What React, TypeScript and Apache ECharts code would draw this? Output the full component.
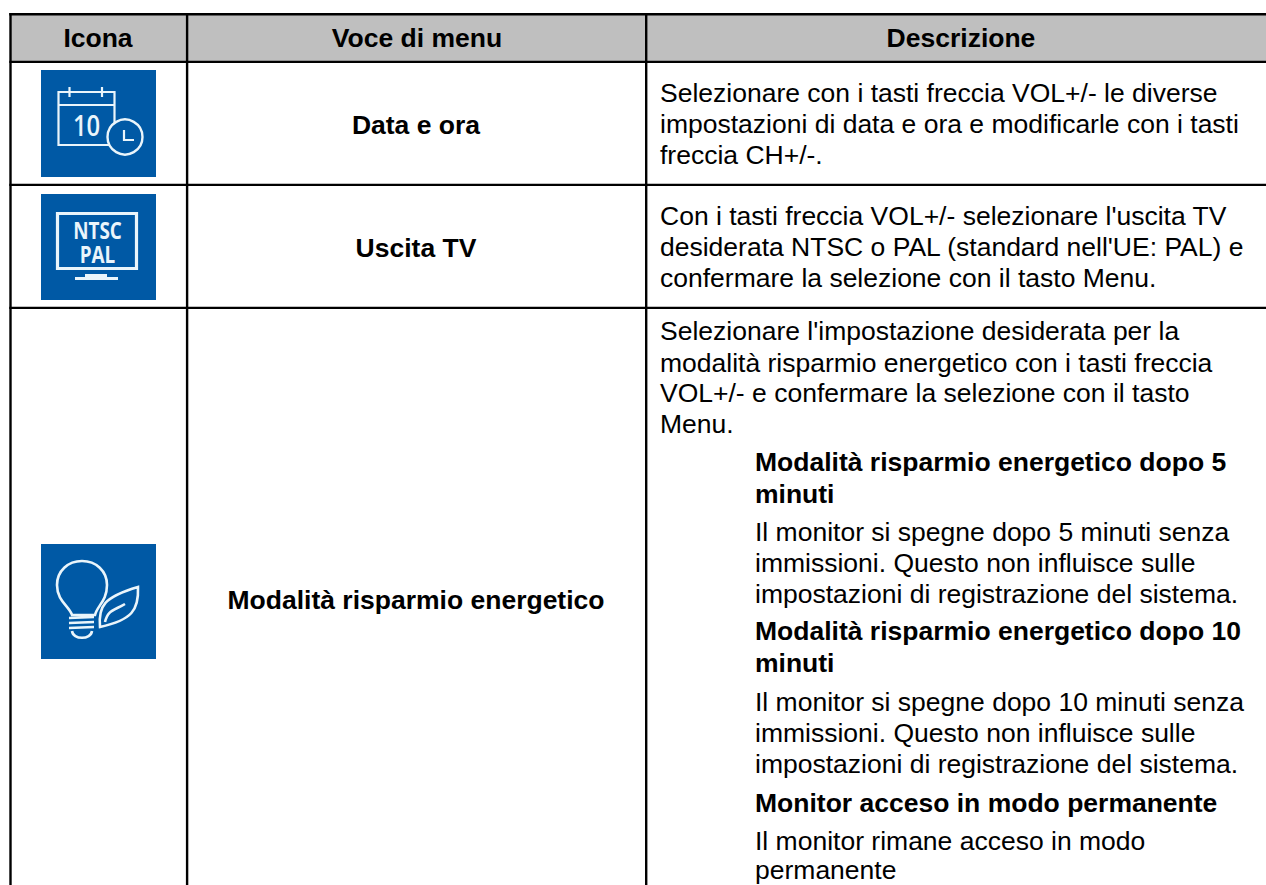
import React, { useEffect, useRef } from "react";
import * as echarts from "echarts";

const headers = ["Icona", "Voce di menu", "Descrizione"];
const menuItems = ["Data e ora", "Uscita TV", "Modalità risparmio energetico"];
const row1Lines = [
  "Selezionare con i tasti freccia VOL+/- le diverse",
  "impostazioni di data e ora e modificarle con i tasti",
  "freccia CH+/-.",
];
const row2Lines = [
  "Con i tasti freccia VOL+/- selezionare l'uscita TV",
  "desiderata NTSC o PAL (standard nell'UE: PAL) e",
  "confermare la selezione con il tasto Menu.",
];
const row3Lines = [
  "Selezionare l'impostazione desiderata per la",
  "modalità risparmio energetico con i tasti freccia",
  "VOL+/- e confermare la selezione con il tasto",
  "Menu.",
];
const subHeads = [
  ["Modalità risparmio energetico dopo 5", "minuti"],
  ["Modalità risparmio energetico dopo 10", "minuti"],
  ["Monitor acceso in modo permanente"],
];
const subBodies = [
  ["Il monitor si spegne dopo 5 minuti senza", "immissioni. Questo non influisce sulle", "impostazioni di registrazione del sistema."],
  ["Il monitor si spegne dopo 10 minuti senza", "immissioni. Questo non influisce sulle", "impostazioni di registrazione del sistema."],
  ["Il monitor rimane acceso in modo", "permanente"],
];
const iconTexts = ["10", "NTSC", "PAL"];

const FONT = '"Liberation Sans", Arial, sans-serif';
const FS = 26.5;
const BLUE = "#0059a5";
const ICON = "#eaf5fb";

const bulbPath =
  "M72 615 C69 606 57 601 57 585 C57 571 68 561 82 561 C96 561 107 571 107 585 C107 601 97 606 95 615 Z" +
  "M69 618 L94 617 M69 623 L94 622 M69 628 L94 627 M72 631 C73 640 91 640 92 631";
const leafPath =
  "M100 627 C98 606 104 597 138 587 C139 610 132 620 100 627 Z M105 622 C108 610 113 611 125 604";

function App() {
  const ref = useRef<HTMLDivElement>(null);
  useEffect(() => {
    document.body.style.margin = "0";
    echarts.graphic.registerShape("bulb", echarts.graphic.extendPath(bulbPath, {}));
    echarts.graphic.registerShape("leaf", echarts.graphic.extendPath(leafPath, {}));
    const chart = echarts.init(ref.current!, undefined, { renderer: "svg" });

    const g: any[] = [];
    const rect = (x: number, y: number, w: number, h: number, fill: string) =>
      g.push({ type: "rect", shape: { x, y, width: w, height: h }, style: { fill }, silent: true });
    const txt = (text: string, x: number, base: number, bold = false, align = "left") =>
      g.push({
        type: "text",
        silent: true,
        style: {
          text, x, y: base - FS * 0.35,
          fontFamily: FONT, fontSize: FS, fontWeight: bold ? "bold" : "normal",
          fill: "#000", align, verticalAlign: "middle",
        },
      });

    // table
    rect(10, 14, 1256, 48, "#bfbfbf");
    for (const [y, h] of [[13, 2.4], [60.8, 2.2], [183.8, 2.2], [306.8, 2.2]]) rect(9.3, y, 1256.7, h, "#000");
    for (const x of [9.3, 185.9, 645]) rect(x, 13, 2.4, 872, "#000");

    // header
    txt(headers[0], 98, 47, true, "center");
    txt(headers[1], 417, 47, true, "center");
    txt(headers[2], 961, 47, true, "center");

    // column 2
    txt(menuItems[0], 416, 134, true, "center");
    txt(menuItems[1], 416, 257, true, "center");
    txt(menuItems[2], 416, 609, true, "center");

    // column 3
    [102, 133, 164].forEach((b, i) => txt(row1Lines[i], 660, b));
    [225, 256, 287].forEach((b, i) => txt(row2Lines[i], 660, b));
    [340, 372, 402, 433].forEach((b, i) => txt(row3Lines[i], 660, b));
    const X2 = 755;
    [[471, 503], [640, 672], [812]].forEach((bs, k) => bs.forEach((b, i) => txt(subHeads[k][i], X2, b, true)));
    [[541, 572, 603], [711, 742, 773], [850, 879]].forEach((bs, k) => bs.forEach((b, i) => txt(subBodies[k][i], X2, b)));

    // icon tiles
    rect(41, 70, 115, 107, BLUE);
    rect(41, 194, 115, 106, BLUE);
    rect(41, 544, 115, 115, BLUE);

    const stroke = (w: number) => ({ stroke: ICON, lineWidth: w, fill: "none" });
    // calendar
    g.push({ type: "rect", silent: true, shape: { x: 58.5, y: 92, width: 56, height: 53 }, style: stroke(2.2) });
    g.push({ type: "line", silent: true, shape: { x1: 58.5, y1: 105, x2: 114.5, y2: 105 }, style: stroke(2.2) });
    for (const x of [69.5, 102]) g.push({ type: "line", silent: true, shape: { x1: x, y1: 87, x2: x, y2: 97 }, style: stroke(2.2) });
    g.push({ type: "text", silent: true, x: 86.5, y: 125, scaleX: 0.85, style: { text: iconTexts[0], x: 0, y: 0, fontFamily: '"Open Sans", sans-serif', fontWeight: 600, fontSize: 28, fill: ICON, align: "center", verticalAlign: "middle" } });
    g.push({ type: "circle", silent: true, shape: { cx: 125, cy: 137, r: 17.5 }, style: { stroke: ICON, lineWidth: 2.4, fill: BLUE } });
    g.push({ type: "polyline", silent: true, shape: { points: [[124, 130], [124, 140], [134, 140]] }, style: stroke(2.2) });

    // monitor
    g.push({ type: "rect", silent: true, shape: { x: 57.5, y: 213.5, width: 79, height: 55 }, style: stroke(3.2) });
    g.push({ type: "text", silent: true, x: 97.5, y: 230.5, scaleX: 0.82, style: { text: iconTexts[1], x: 0, y: 0, fontFamily: '"Open Sans", sans-serif', fontWeight: "bold", fontSize: 23, fill: ICON, align: "center", verticalAlign: "middle" } });
    g.push({ type: "text", silent: true, x: 97.5, y: 254, scaleX: 0.82, style: { text: iconTexts[2], x: 0, y: 0, fontFamily: '"Open Sans", sans-serif', fontWeight: "bold", fontSize: 23, fill: ICON, align: "center", verticalAlign: "middle" } });
    rect(85, 274, 22, 3, ICON);
    rect(75, 277, 43, 3, ICON);

    // bulb + leaf
    g.push({ type: "bulb", silent: true, style: stroke(2.6) });
    g.push({ type: "leaf", silent: true, style: stroke(2.6) });

    chart.setOption({ animation: false, graphic: { elements: g } });
    return () => chart.dispose();
  }, []);
  return <div ref={ref} style={{ width: 1266, height: 885, background: "#fff" }} />;
}

export default App;
